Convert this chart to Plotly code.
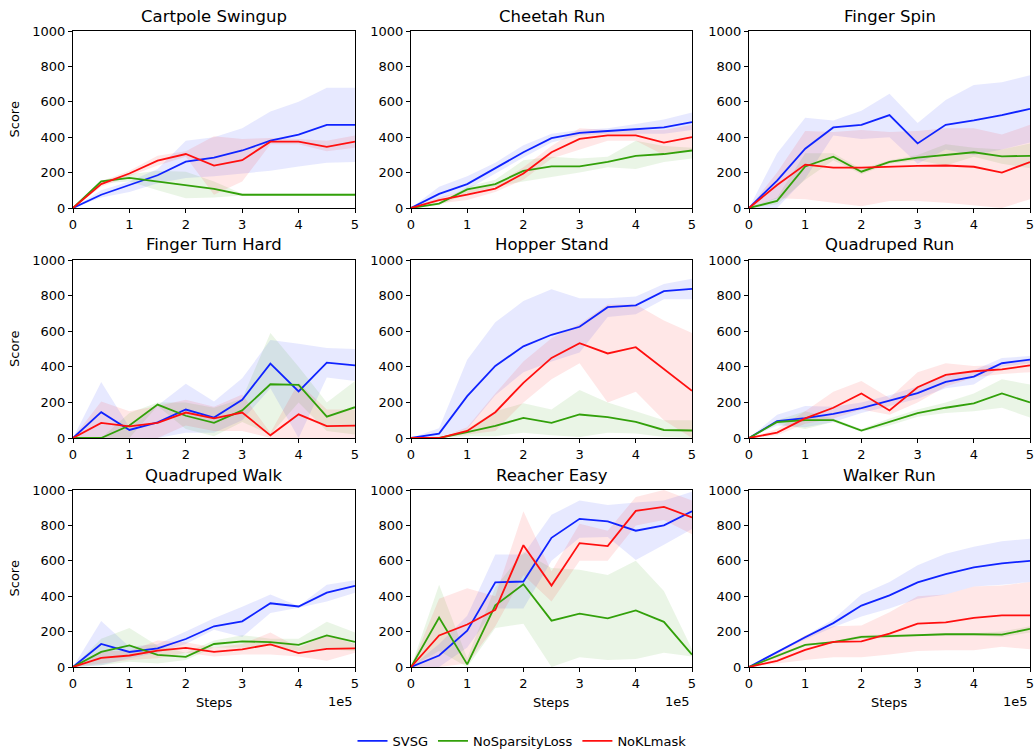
import plotly.graph_objects as go

STEPS = [0, 0.5, 1, 1.5, 2, 2.5, 3, 3.5, 4, 4.5, 5]  # in units of 1e5

ENVS = ["Cartpole Swingup", "Cheetah Run", "Finger Spin",
        "Finger Turn Hard", "Hopper Stand", "Quadruped Run",
        "Quadruped Walk", "Reacher Easy", "Walker Run"]

METHODS = ["SVSG", "NoSparsityLoss", "NoKLmask"]

# ---------------- SVSG ----------------
SVSG_MEAN = {
    "Cartpole Swingup": [0, 75, 130, 185, 262, 285, 325, 380, 415, 470, 470],
    "Cheetah Run":      [0, 80, 135, 225, 315, 395, 425, 435, 445, 455, 485],
    "Finger Spin":      [0, 155, 335, 455, 470, 525, 365, 470, 495, 525, 560],
    "Finger Turn Hard": [0, 145, 45, 88, 160, 115, 215, 418, 262, 423, 408],
    "Hopper Stand":     [0, 25, 235, 405, 515, 580, 625, 735, 745, 825, 838],
    "Quadruped Run":    [0, 95, 112, 135, 168, 210, 252, 315, 345, 420, 440],
    "Quadruped Walk":   [0, 130, 85, 105, 158, 230, 258, 360, 342, 420, 458],
    "Reacher Easy":     [0, 65, 205, 478, 483, 730, 837, 823, 770, 800, 880],
    "Walker Run":       [0, 85, 168, 248, 347, 405, 478, 525, 563, 585, 600],
}
SVSG_HI = {
    "Cartpole Swingup": [0, 100, 150, 220, 380, 400, 450, 545, 600, 680, 680],
    "Cheetah Run":      [0, 120, 180, 255, 355, 420, 440, 450, 475, 500, 540],
    "Finger Spin":      [0, 310, 510, 495, 550, 645, 480, 610, 695, 710, 750],
    "Finger Turn Hard": [0, 315, 60, 180, 305, 205, 335, 550, 530, 505, 500],
    "Hopper Stand":     [0, 55, 440, 650, 770, 835, 785, 785, 795, 865, 895],
    "Quadruped Run":    [0, 130, 180, 175, 200, 240, 290, 350, 380, 450, 460],
    "Quadruped Walk":   [0, 260, 115, 130, 200, 275, 340, 410, 345, 465, 490],
    "Reacher Easy":     [0, 130, 290, 635, 635, 860, 940, 915, 930, 940, 990],
    "Walker Run":       [0, 90, 175, 270, 410, 480, 575, 640, 680, 710, 725],
}
SVSG_LO = {
    "Cartpole Swingup": [0, 60, 90, 140, 170, 180, 195, 210, 235, 255, 260],
    "Cheetah Run":      [0, 50, 105, 195, 285, 370, 410, 420, 420, 420, 440],
    "Finger Spin":      [0, 0, 165, 410, 390, 400, 250, 330, 300, 330, 370],
    "Finger Turn Hard": [0, 0, 0, 0, 30, 30, 100, 280, 0, 340, 320],
    "Hopper Stand":     [0, 5, 50, 240, 370, 430, 480, 680, 695, 780, 780],
    "Quadruped Run":    [0, 70, 60, 90, 140, 180, 220, 280, 300, 400, 420],
    "Quadruped Walk":   [0, 10, 50, 80, 130, 210, 170, 305, 335, 370, 420],
    "Reacher Easy":     [0, 0, 110, 330, 330, 600, 730, 735, 605, 690, 780],
    "Walker Run":       [0, 80, 155, 225, 285, 330, 385, 410, 455, 465, 480],
}

# ---------------- NoSparsityLoss ----------------
NOSP_MEAN = {
    "Cartpole Swingup": [0, 150, 170, 148, 128, 108, 75, 75, 75, 75, 75],
    "Cheetah Run":      [0, 25, 105, 135, 210, 235, 235, 260, 295, 305, 325],
    "Finger Spin":      [0, 40, 235, 290, 205, 260, 285, 298, 315, 292, 295],
    "Finger Turn Hard": [0, 0, 70, 188, 125, 85, 155, 302, 298, 120, 173],
    "Hopper Stand":     [0, 0, 33, 68, 113, 85, 132, 117, 90, 45, 42],
    "Quadruped Run":    [0, 90, 100, 100, 42, 90, 140, 170, 195, 250, 200],
    "Quadruped Walk":   [0, 85, 122, 68, 57, 130, 145, 140, 125, 178, 142],
    "Reacher Easy":     [0, 280, 15, 348, 468, 262, 302, 275, 320, 255, 70],
    "Walker Run":       [0, 62, 125, 140, 170, 175, 180, 185, 185, 183, 215],
}
NOSP_HI = {
    "Cartpole Swingup": [0, 155, 190, 210, 205, 150, 80, 80, 80, 80, 80],
    "Cheetah Run":      [0, 30, 120, 160, 270, 290, 280, 290, 380, 350, 340],
    "Finger Spin":      [0, 60, 310, 310, 220, 270, 300, 360, 340, 330, 365],
    "Finger Turn Hard": [0, 0, 140, 200, 200, 170, 220, 590, 400, 200, 320],
    "Hopper Stand":     [0, 0, 50, 150, 195, 160, 270, 200, 150, 100, 100],
    "Quadruped Run":    [0, 100, 150, 110, 50, 110, 160, 200, 250, 330, 300],
    "Quadruped Walk":   [0, 160, 220, 120, 80, 150, 180, 160, 160, 255, 195],
    "Reacher Easy":     [0, 465, 50, 450, 650, 560, 550, 520, 600, 430, 100],
    "Walker Run":       [0, 70, 130, 145, 180, 185, 185, 190, 190, 200, 230],
}
NOSP_LO = {
    "Cartpole Swingup": [0, 140, 150, 100, 55, 60, 70, 70, 70, 70, 70],
    "Cheetah Run":      [0, 15, 80, 120, 150, 175, 200, 230, 220, 260, 280],
    "Finger Spin":      [0, 20, 160, 270, 190, 250, 270, 240, 290, 250, 225],
    "Finger Turn Hard": [0, 0, 0, 180, 50, 10, 90, 20, 200, 40, 20],
    "Hopper Stand":     [0, 0, 10, 10, 30, 15, 5, 30, 25, 5, 0],
    "Quadruped Run":    [0, 80, 50, 90, 35, 70, 120, 140, 150, 170, 115],
    "Quadruped Walk":   [0, 10, 30, 20, 40, 110, 110, 120, 90, 100, 90],
    "Reacher Easy":     [0, 90, 0, 220, 245, 0, 55, 40, 45, 80, 60],
    "Walker Run":       [0, 55, 120, 135, 160, 165, 175, 180, 180, 170, 195],
}

# ---------------- NoKLmask ----------------
NOKL_MEAN = {
    "Cartpole Swingup": [0, 135, 195, 268, 305, 240, 270, 375, 375, 345, 375],
    "Cheetah Run":      [0, 45, 75, 110, 195, 315, 390, 410, 410, 370, 400],
    "Finger Spin":      [0, 130, 245, 228, 228, 235, 238, 240, 233, 200, 260],
    "Finger Turn Hard": [0, 85, 65, 85, 143, 110, 143, 15, 133, 67, 70],
    "Hopper Stand":     [0, 0, 40, 145, 310, 450, 533, 475, 510, 385, 265],
    "Quadruped Run":    [0, 30, 110, 170, 250, 155, 285, 355, 375, 385, 408],
    "Quadruped Walk":   [0, 52, 65, 92, 108, 85, 100, 128, 78, 102, 105],
    "Reacher Easy":     [0, 178, 240, 323, 688, 460, 700, 683, 882, 905, 845],
    "Walker Run":       [0, 35, 97, 142, 145, 188, 245, 252, 278, 292, 292],
}
NOKL_HI = {
    "Cartpole Swingup": [0, 150, 210, 295, 320, 405, 390, 395, 390, 380, 410],
    "Cheetah Run":      [0, 60, 100, 130, 230, 350, 450, 440, 440, 440, 470],
    "Finger Spin":      [0, 200, 435, 430, 440, 430, 435, 450, 450, 415, 470],
    "Finger Turn Hard": [0, 205, 150, 180, 215, 175, 245, 30, 310, 160, 160],
    "Hopper Stand":     [0, 0, 60, 250, 430, 560, 640, 750, 750, 660, 590],
    "Quadruped Run":    [0, 50, 150, 260, 320, 225, 370, 420, 405, 410, 440],
    "Quadruped Walk":   [0, 90, 90, 150, 140, 110, 130, 195, 110, 180, 130],
    "Reacher Easy":     [0, 385, 445, 400, 880, 540, 810, 770, 960, 1000, 940],
    "Walker Run":       [0, 80, 180, 230, 235, 310, 400, 410, 455, 460, 480],
}
NOKL_LO = {
    "Cartpole Swingup": [0, 120, 180, 240, 290, 75, 150, 360, 360, 320, 340],
    "Cheetah Run":      [0, 25, 45, 90, 160, 280, 330, 380, 380, 300, 330],
    "Finger Spin":      [0, 55, 50, 30, 10, 40, 40, 30, 15, 0, 50],
    "Finger Turn Hard": [0, 0, 0, 0, 70, 40, 40, 0, 0, 0, 0],
    "Hopper Stand":     [0, 0, 20, 40, 200, 330, 420, 200, 260, 100, 0],
    "Quadruped Run":    [0, 15, 80, 110, 160, 130, 200, 290, 340, 360, 370],
    "Quadruped Walk":   [0, 20, 40, 50, 80, 60, 70, 70, 60, 35, 80],
    "Reacher Easy":     [0, 0, 20, 230, 520, 370, 600, 600, 800, 830, 750],
    "Walker Run":       [0, 20, 40, 55, 55, 70, 90, 95, 95, 115, 100],
}

X_TICKS = [0, 1, 2, 3, 4, 5]
Y_TICKS = [0, 200, 400, 600, 800, 1000]

STYLE = {
    "SVSG": ("rgb(15,35,255)", "rgba(15,35,255,0.10)"),
    "NoSparsityLoss": ("rgb(50,160,10)", "rgba(50,160,10,0.10)"),
    "NoKLmask": ("rgb(255,15,15)", "rgba(255,15,15,0.10)"),
}
DATA = {
    "SVSG": (SVSG_MEAN, SVSG_HI, SVSG_LO),
    "NoSparsityLoss": (NOSP_MEAN, NOSP_HI, NOSP_LO),
    "NoKLmask": (NOKL_MEAN, NOKL_HI, NOKL_LO),
}

W, H = 1034, 751
COL_PX = [(73, 355), (411, 692), (749, 1030)]
ROW_PX = [(31, 208), (260, 438), (490, 667)]


def px_x(x):
    return x / W


def px_y(y):
    return 1 - y / H


fig = go.Figure()
FONT = "DejaVu Sans"

annotations = []
for i, env in enumerate(ENVS):
    r, c = divmod(i, 3)
    n = i + 1
    xa = "x" if n == 1 else f"x{n}"
    ya = "y" if n == 1 else f"y{n}"
    for m in METHODS:
        mean, hi, lo = DATA[m]
        line_c, fill_c = STYLE[m]
        fig.add_trace(go.Scatter(
            x=STEPS + STEPS[::-1], y=hi[env] + lo[env][::-1],
            fill="toself", fillcolor=fill_c, line=dict(width=0),
            mode="lines", hoverinfo="skip", showlegend=False,
            xaxis=xa, yaxis=ya))
    for m in METHODS:
        mean, hi, lo = DATA[m]
        line_c, fill_c = STYLE[m]
        fig.add_trace(go.Scatter(
            x=STEPS, y=mean[env], mode="lines", name=m,
            line=dict(color=line_c, width=1.8),
            showlegend=(i == 0), legendgroup=m,
            xaxis=xa, yaxis=ya))

    x0, x1 = COL_PX[c]
    y0, y1 = ROW_PX[r]
    axis_common = dict(showline=True, linecolor="black", linewidth=1, mirror=True,
                       ticks="outside", ticklen=4, tickcolor="black",
                       showgrid=False, zeroline=False, automargin=False,
                       ticklabeloverflow="allow",
                       tickfont=dict(family=FONT, size=13, color="black"))
    fig.update_layout(**{
        ("xaxis" if n == 1 else f"xaxis{n}"): dict(
            domain=[px_x(x0), px_x(x1)], range=[0, 5], tickvals=X_TICKS,
            anchor=ya, **axis_common),
        ("yaxis" if n == 1 else f"yaxis{n}"): dict(
            domain=[px_y(y1), px_y(y0)], range=[0, 1000], tickvals=Y_TICKS,
            anchor=xa, **axis_common),
    })
    annotations.append(dict(text=env, x=px_x((x0 + x1) / 2), y=px_y(y0 - 15),
                            xref="paper", yref="paper", showarrow=False,
                            xanchor="center", yanchor="middle",
                            font=dict(family=FONT, size=16.5, color="black")))
    if c == 0:
        annotations.append(dict(text="Score", x=px_x(14), y=px_y((y0 + y1) / 2),
                                xref="paper", yref="paper", showarrow=False,
                                textangle=-90, xanchor="center", yanchor="middle",
                                font=dict(family=FONT, size=13, color="black")))
    if r == 2:
        annotations.append(dict(text="Steps", x=px_x((x0 + x1) / 2), y=px_y(702),
                                xref="paper", yref="paper", showarrow=False,
                                xanchor="center", yanchor="middle",
                                font=dict(family=FONT, size=13, color="black")))
        annotations.append(dict(text="1e5", x=px_x(x1), y=px_y(701),
                                xref="paper", yref="paper", showarrow=False,
                                xanchor="right", yanchor="middle",
                                font=dict(family=FONT, size=13, color="black")))

fig.update_layout(
    width=W, height=H, margin=dict(l=0, r=0, t=0, b=0, autoexpand=False),
    plot_bgcolor="white", paper_bgcolor="white",
    annotations=annotations,
    legend=dict(orientation="h", x=px_x(522), xanchor="center", y=px_y(741),
                yanchor="middle", font=dict(family=FONT, size=13, color="black"),
                bgcolor="rgba(0,0,0,0)"),
)

# Remove the browser's default 8px body margin so the figure sits at (0, 0).
fig.write_html(
    "out.html",
    config={"displayModeBar": False},
    post_script="document.body.style.margin='0';document.body.style.overflow='hidden';",
)
